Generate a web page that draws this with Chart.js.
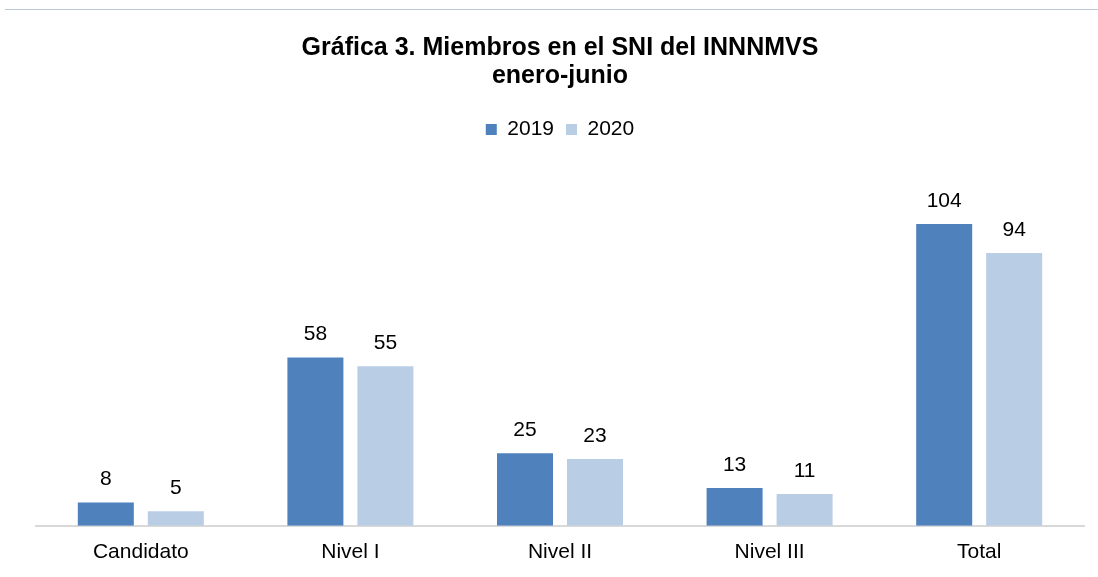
<!DOCTYPE html>
<html>
<head>
<meta charset="utf-8">
<script src="https://cdn.jsdelivr.net/npm/chart.js@4/dist/chart.umd.min.js"></script>
<style>
  body { margin: 0; background: #fff; }
  #wrap { position: relative; width: 1098px; height: 577px; }
  #linea { position: absolute; left: 5px; right: 0; top: 9px; border-top: 1px solid #bcc9d8; }
</style>
</head>
<body>
<div id="wrap">
  <div id="linea"></div>
  <canvas id="myChart" width="1098" height="577"></canvas>
</div>
<script>
var categorias = ['Candidato', 'Nivel I', 'Nivel II', 'Nivel III', 'Total'];
var valores2019 = [8, 58, 25, 13, 104];
var valores2020 = [5, 55, 23, 11, 94];
var series = ['2019', '2020'];

var fuente = "'Liberation Sans', Arial, sans-serif";

// etiquetas de valor encima de cada barra
var etiquetas = {
    id: 'etiquetas',
    afterDatasetsDraw: function(chart) {
        var ctx = chart.ctx;
        ctx.save();
        ctx.font = '21px ' + fuente;
        ctx.fillStyle = '#000';
        ctx.textAlign = 'center';
        ctx.textBaseline = 'middle';
        chart.data.datasets.forEach(function(ds, i) {
            chart.getDatasetMeta(i).data.forEach(function(bar, j) {
                ctx.fillText(ds.data[j], bar.x, bar.y - 23);
            });
        });
        ctx.restore();
    }
};

var ctx = document.getElementById('myChart').getContext('2d');
var grafica = new Chart(ctx, {
    type: 'bar',
    data: {
        labels: categorias,
        datasets: [{
            label: series[0],
            data: valores2019,
            backgroundColor: '#4f81bd'
        }, {
            label: series[1],
            data: valores2020,
            backgroundColor: '#b9cde5'
        }]
    },
    options: {
        responsive: false,
        animation: false,
        categoryPercentage: 0.668,
        barPercentage: 0.8,
        layout: { padding: { left: 36, right: 14, top: 34, bottom: -2 } },
        plugins: {
            title: {
                display: true,
                text: ['Gráfica 3. Miembros en el SNI del INNNMVS', 'enero-junio'],
                color: '#000',
                font: { family: fuente, size: 25, weight: 'bold', lineHeight: 1.12 },
                padding: { top: 0, bottom: 17 }
            },
            legend: {
                labels: {
                    color: '#000',
                    font: { family: fuente, size: 21 },
                    boxWidth: 11,
                    boxHeight: 11,
                    padding: 12
                }
            },
            tooltip: { enabled: false }
        },
        scales: {
            x: {
                grid: { display: false, drawTicks: false },
                border: { display: true, color: '#d9d9d9', width: 2 },
                ticks: { color: '#000', font: { family: fuente, size: 21 }, padding: 14 }
            },
            y: {
                display: false,
                min: 0,
                max: 129.5
            }
        }
    },
    plugins: [etiquetas]
});
</script>
</body>
</html>
